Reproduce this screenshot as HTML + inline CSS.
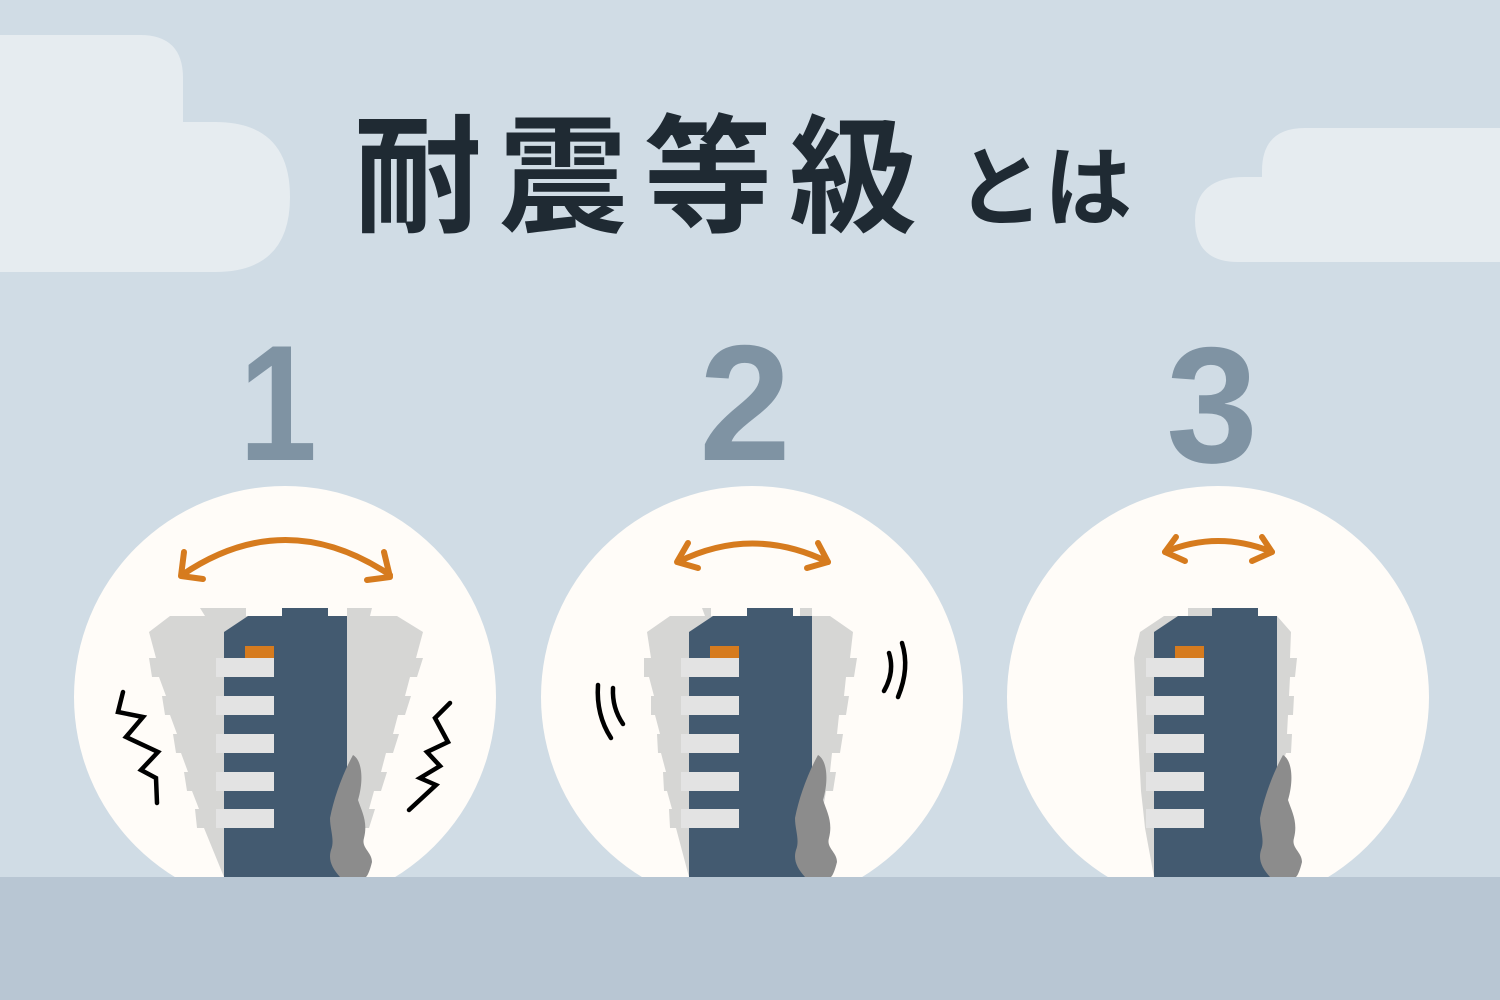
<!DOCTYPE html>
<html><head><meta charset="utf-8"><style>
html,body{margin:0;padding:0;width:1500px;height:1000px;overflow:hidden;background:#d0dce5}
svg{display:block}
</style></head><body>
<svg width="1500" height="1000" viewBox="0 0 1500 1000" xmlns="http://www.w3.org/2000/svg">
<defs>
<g id="bld">
  <path d="M224,632 L248,616 L282,616 L282,608 L328,608 L328,616 L347,616 L347,877 L224,877 Z" fill="#435a70"/>
  <rect x="245" y="646" width="29" height="12" fill="#d67b1e"/>
  <g fill="#e3e3e3">
    <rect x="216" y="658" width="58" height="19"/>
    <rect x="216" y="696" width="58" height="19"/>
    <rect x="216" y="734" width="58" height="19"/>
    <rect x="216" y="772" width="58" height="19"/>
    <rect x="216" y="809" width="58" height="19"/>
  </g>
  <path d="M353,755 C362,760 364,780 358,800 C362,812 368,822 364,838 C361,848 372,852 372,862 C370,870 368,875 366,877 L340,877 C332,868 328,860 331,850 C335,840 330,830 330,818 C334,798 342,775 353,755 Z" fill="#8c8c8c"/>
</g>
</defs>
<g fill="#e6ecf0">
  <path d="M0,35 L140,35 Q183,35 183,78 L183,122 L215,122 Q290,122 290,197 Q290,272 215,272 L0,272 Z"/>
  <path d="M1500,128 L1305,128 Q1262,128 1262,171 L1262,177 L1245,177 Q1195,177 1195,220 Q1195,262 1238,262 L1500,262 Z"/>
</g>
<text x="354" y="222" font-family="'Liberation Sans','Noto Sans CJK JP',sans-serif" font-weight="bold" font-size="128" fill="#1f2a33" letter-spacing="17">耐震等級</text>
<text x="956" y="219" font-family="'Liberation Sans','Noto Sans CJK JP',sans-serif" font-weight="bold" font-size="88" fill="#1f2a33">とは</text>
<g font-family="'Liberation Sans',sans-serif" font-weight="bold" font-size="165" fill="#7f93a3" text-anchor="middle">
  <text x="0" y="460" transform="translate(278,0) scale(0.85,1)">1</text>
  <text x="745" y="460">2</text>
  <text x="1212" y="462">3</text>
</g>
<g fill="#fffcf8">
  <circle cx="285" cy="697" r="211"/>
  <circle cx="752" cy="697" r="211"/>
  <circle cx="1218" cy="697" r="211"/>
</g>
<g fill="#d6d6d4">
  <path d="M200,608 L246,608 L246,616 L347,616 L347,608 L372,608 L370,616 L397,616 L423,632 L416,658 L423,658 L417,677 L410,677 L405,696 L411,696 L405,715 L398,715 L393,734 L399,734 L393,753 L386,753 L381,772 L387,772 L381,791 L374,791 L369,809 L375,809 L369,828 L362,828 L347,877 L224,877 L204,828 L197,828 L195,809 L199,809 L192,791 L187,791 L184,772 L188,772 L181,753 L176,753 L173,734 L177,734 L170,715 L165,715 L162,696 L166,696 L159,677 L152,677 L149,658 L156,658 L149,632 L170,616 L205,616 Z"/>
  <path d="M702,608 L711,608 L711,616 L812,616 L812,608 L800,608 L800,616 L830,616 L853,632 L850,658 L857,658 L854,677 L846,677 L844,696 L849,696 L846,715 L839,715 L837,734 L843,734 L840,753 L832,753 L830,772 L836,772 L833,791 L826,791 L812,877 L689,877 L676,828 L670,828 L669,809 L672,809 L667,791 L664,791 L663,772 L666,772 L661,753 L658,753 L657,734 L660,734 L655,715 L651,715 L651,696 L654,696 L649,677 L644,677 L644,658 L651,658 L647,632 L670,616 L705,616 Z"/>
  <path d="M1188,608 L1212,608 L1212,616 L1277,616 L1291,632 L1290,658 L1297,658 L1295,677 L1290,677 L1289,696 L1294,696 L1293,715 L1288,715 L1287,734 L1292,734 L1291,753 L1286,753 L1277,780 L1277,877 L1154,877 L1145,828 L1143,809 L1141,791 L1140,772 L1139,753 L1138,734 L1137,715 L1136,696 L1135,677 L1134,658 L1140,632 L1164,616 L1188,616 Z"/>
</g>
<use href="#bld"/>
<use href="#bld" transform="translate(465,0)"/>
<use href="#bld" transform="translate(930,0)"/>
<g fill="none" stroke="#d67b1e" stroke-width="6" stroke-linecap="round" stroke-linejoin="round">
  <path d="M182,575 Q285,505 390,575"/>
  <path d="M184,552 L181,576 L203,579"/>
  <path d="M384,552 L390,577 L367,580"/>
  <path d="M678,562 Q752,525 828,562"/>
  <path d="M688,543 L677,562 L698,568"/>
  <path d="M818,543 L828,562 L807,568"/>
  <path d="M1165,552 Q1218,530 1272,552"/>
  <path d="M1176,537 L1165,552 L1185,561"/>
  <path d="M1262,537 L1272,552 L1252,561"/>
</g>
<g fill="none" stroke="#000" stroke-width="4.5" stroke-linecap="round" stroke-linejoin="miter">
  <path d="M123,692 L118,712 L143,717 L126,737 L158,752 L141,770 L156,778 L157,803"/>
  <path d="M450,703 L435,718 L448,742 L427,752 L440,766 L420,778 L436,785 L409,810"/>
  <path d="M598,685 Q596,715 611,738"/>
  <path d="M613,688 Q612,708 623,724"/>
  <path d="M889,653 Q895,672 884,691"/>
  <path d="M902,643 Q910,668 898,697"/>
</g>
<rect x="0" y="877" width="1500" height="123" fill="#b8c6d3"/>
</svg>
</body></html>
